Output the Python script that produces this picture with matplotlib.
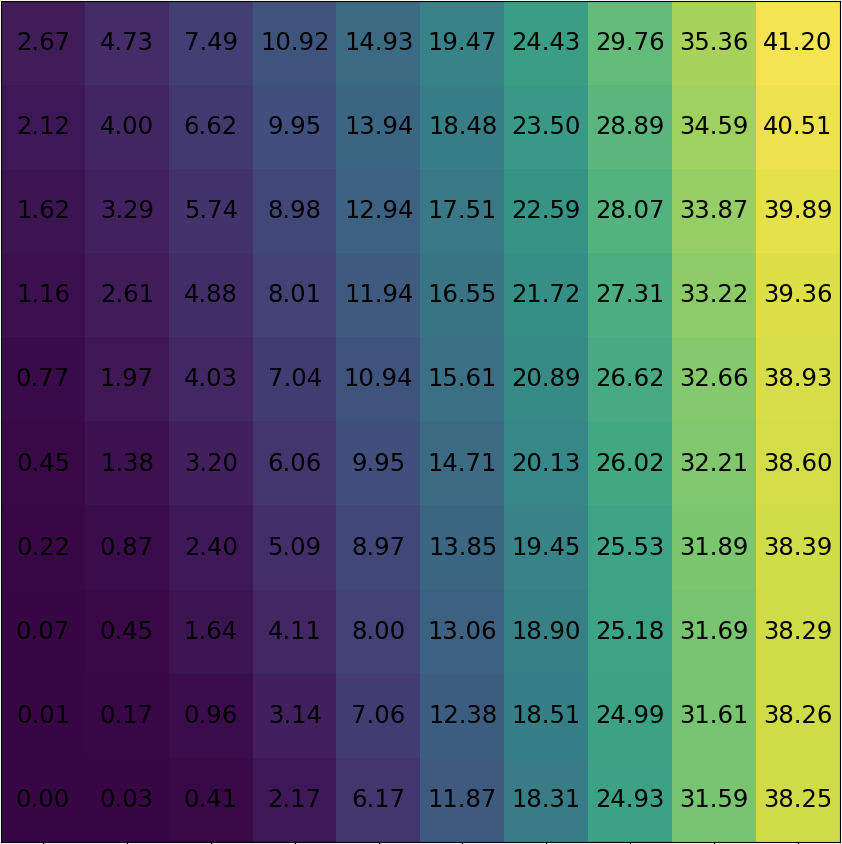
import matplotlib
matplotlib.use("Agg")
import matplotlib.pyplot as plt
from matplotlib.colors import ListedColormap
import numpy as np

# rows listed top to bottom
row_1 = [2.67, 4.73, 7.49, 10.92, 14.93, 19.47, 24.43, 29.76, 35.36, 41.20]
row_2 = [2.12, 4.00, 6.62, 9.95, 13.94, 18.48, 23.50, 28.89, 34.59, 40.51]
row_3 = [1.62, 3.29, 5.74, 8.98, 12.94, 17.51, 22.59, 28.07, 33.87, 39.89]
row_4 = [1.16, 2.61, 4.88, 8.01, 11.94, 16.55, 21.72, 27.31, 33.22, 39.36]
row_5 = [0.77, 1.97, 4.03, 7.04, 10.94, 15.61, 20.89, 26.62, 32.66, 38.93]
row_6 = [0.45, 1.38, 3.20, 6.06, 9.95, 14.71, 20.13, 26.02, 32.21, 38.60]
row_7 = [0.22, 0.87, 2.40, 5.09, 8.97, 13.85, 19.45, 25.53, 31.89, 38.39]
row_8 = [0.07, 0.45, 1.64, 4.11, 8.00, 13.06, 18.90, 25.18, 31.69, 38.29]
row_9 = [0.01, 0.17, 0.96, 3.14, 7.06, 12.38, 18.51, 24.99, 31.61, 38.26]
row_10 = [0.00, 0.03, 0.41, 2.17, 6.17, 11.87, 18.31, 24.93, 31.59, 38.25]

data = np.array([row_1, row_2, row_3, row_4, row_5, row_6, row_7, row_8, row_9, row_10])

# slightly desaturated viridis
base = plt.get_cmap("viridis")(np.linspace(0, 1, 256))[:, :3]
lum = base @ np.array([0.2126, 0.7152, 0.0722])
sat = 0.75
cols = lum[:, None] + sat * (base - lum[:, None])
cmap = ListedColormap(np.clip(cols, 0, 1))

W, H = 842, 844
fig = plt.figure(figsize=(W / 100, H / 100), dpi=100)
ax = fig.add_axes([1 / W, (H - 842) / H, 839 / W, 841 / H])
ax.imshow(data, cmap=cmap, aspect="auto", vmin=data.min(), vmax=data.max())
for i in range(data.shape[0]):
    for j in range(data.shape[1]):
        ax.text(j, i, f"{data[i, j]:.2f}", ha="center", va="center", color="black",
                fontsize=17.5, family="DejaVu Sans")
ax.set_xticks(range(data.shape[1]))
ax.set_yticks([])
ax.set_xticklabels([])
fig.savefig("out.png", dpi=100)
